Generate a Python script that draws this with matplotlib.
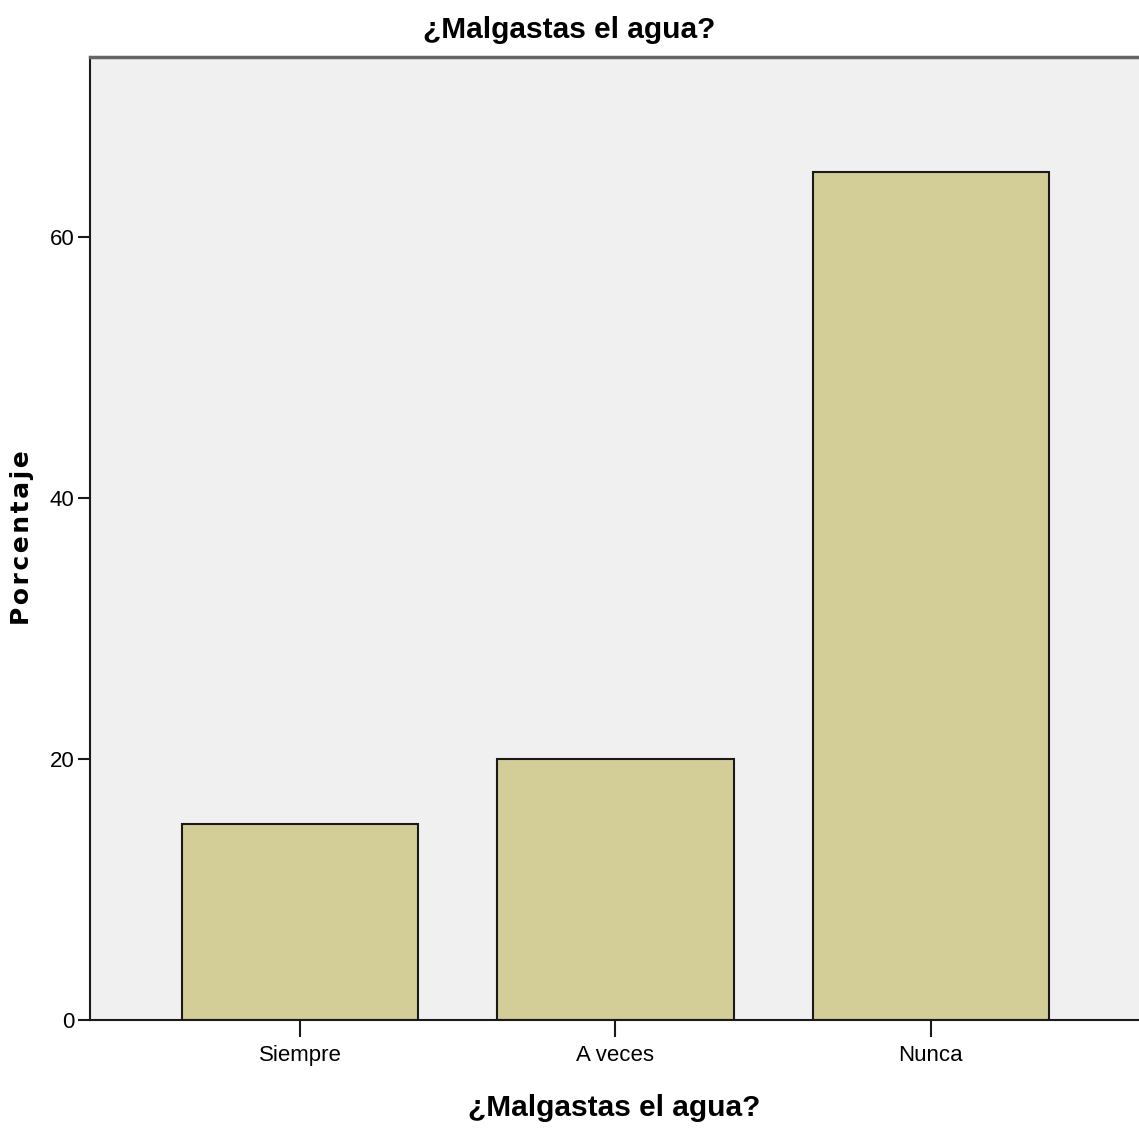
import matplotlib.pyplot as plt
from matplotlib import font_manager

categories = ['Siempre', 'A veces', 'Nunca']
porcentaje = [15.0, 20.0, 65.0]
yticks = [0, 20, 40, 60]

names = {f.name for f in font_manager.fontManager.ttflist}
narrow = 'Liberation Sans Narrow' if 'Liberation Sans Narrow' in names else 'Liberation Sans'
plt.rcParams['font.family'] = [narrow, 'DejaVu Sans']

fig = plt.figure(figsize=(11.39, 11.29), dpi=100)
ax = fig.add_axes([0.079, 0.0965, 0.921, 0.853])
ax.set_facecolor('#f0f0f0')

x = range(len(categories))
ax.bar(x, porcentaje, width=0.75, color='#d3ce97', edgecolor='#1a1a1a', linewidth=1.5, zorder=2)

ax.set_xlim(-0.666, 2.66)
ax.set_ylim(0, 73.8)
ax.set_xticks(list(x))
ax.set_xticklabels(categories, fontsize=16)
ax.set_yticks(yticks)
ax.set_yticklabels([str(t) for t in yticks], fontsize=16)
ax.tick_params(axis='x', length=12, width=1.5, color='#1a1a1a', pad=6)
ax.tick_params(axis='y', length=9, width=1.5, color='#1a1a1a', pad=2)

ax.spines['right'].set_visible(False)
ax.spines['top'].set_color('#666666')
ax.spines['top'].set_linewidth(2.5)
for s in ('left', 'bottom'):
    ax.spines[s].set_color('#1a1a1a')
    ax.spines[s].set_linewidth(1.5)

# title centred on the whole figure, x label on the axes
fig.text(0.5, 0.973, '¿Malgastas el agua?', ha='center', va='center',
         fontsize=21.5, fontweight='bold')
ax.set_xlabel('¿Malgastas el agua?', fontsize=21.5, fontweight='bold', labelpad=20)
fig.text(0.019, 0.524, '\u200a'.join('Porcentaje'), rotation=90, ha='center', va='center',
         fontsize=18, fontweight='bold', family='DejaVu Sans')

fig.savefig('out.png', dpi=100)
